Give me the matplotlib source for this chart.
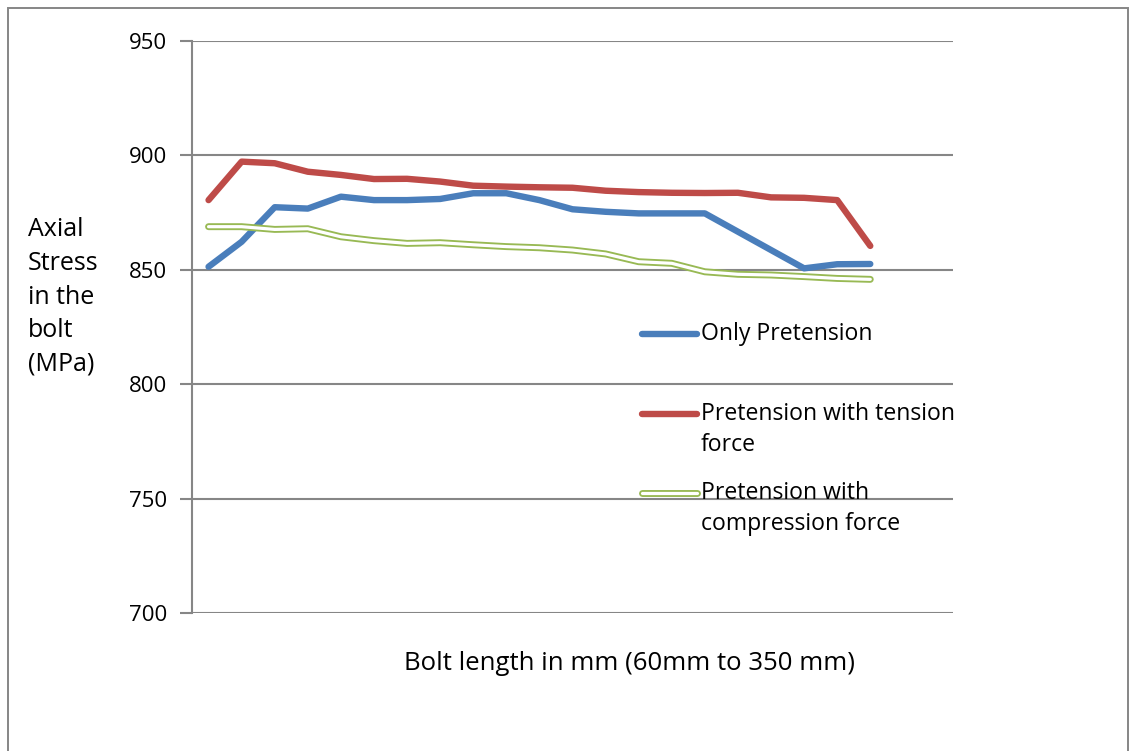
import matplotlib
matplotlib.use("Agg")
import matplotlib.pyplot as plt
import numpy as np
from matplotlib.lines import Line2D
from matplotlib.patches import Rectangle

plt.rcParams["font.family"] = ["Open Sans", "DejaVu Sans"]

# axial stress (MPa) at 21 bolt lengths, 60 mm to 350 mm
only_pretension = [851.2, 862.1, 877.2, 876.6, 881.8, 880.3, 880.3, 880.8, 883.3, 883.3, 880.3,
                   876.3, 875.2, 874.5, 874.5, 874.5, 866.5, 858.5, 850.5, 852.3, 852.4]
with_tension = [880.3, 897.1, 896.4, 892.7, 891.3, 889.5, 889.6, 888.4, 886.6, 886.2, 885.9,
                885.7, 884.4, 883.8, 883.5, 883.4, 883.5, 881.5, 881.3, 880.3, 860.3]
with_compression = [868.7, 868.7, 867.5, 867.8, 864.3, 862.6, 861.4, 861.7, 860.8, 860.0, 859.5,
                    858.5, 856.8, 853.4, 852.7, 849.0, 847.9, 847.6, 846.9, 846.1, 845.7]
y_ticks = [700, 750, 800, 850, 900, 950]
n_categories = 23

BLUE = "#4A7EBB"
RED = "#BE4B48"
GREEN = "#98B954"
GRID = "#868686"
W, H = 1134, 751

fig = plt.figure(figsize=(W / 100, H / 100), dpi=100)
ax = fig.add_axes([192 / W, 1 - 613 / H, (953 - 192) / W, (613 - 40.5) / H])

x = np.arange(len(only_pretension))
ax.plot(x, only_pretension, color=BLUE, lw=4.6, solid_capstyle="round", zorder=3)
ax.plot(x, with_tension, color=RED, lw=4.6, solid_capstyle="round", zorder=3)
ax.plot(x, with_compression, color=GREEN, lw=5.0, solid_capstyle="round", zorder=3)
ax.plot(x, with_compression, color="white", lw=2.3, solid_capstyle="round", zorder=3)

ax.set_xlim(-0.5, n_categories - 0.5)
ax.set_ylim(700, 950)
ax.set_yticks(y_ticks)
ax.set_xticks([])
ax.tick_params(axis="y", length=9, width=1.5, color=GRID, labelsize=16, pad=9)
ax.grid(axis="y", color=GRID, lw=1.5)
ax.set_axisbelow(True)
for s in ["top", "right", "bottom"]:
    ax.spines[s].set_visible(False)
ax.spines["left"].set_color(GRID)
ax.spines["left"].set_linewidth(1.5)

# outer chart border
fig.add_artist(Rectangle((8 / W, -0.05), (1128 - 8) / W, 1.05 - 8 / H, transform=fig.transFigure,
                         fill=False, edgecolor=GRID, lw=1.4))

fig.text(28 / W, 1 - 297 / H, "Axial\nStress\nin the\nbolt\n(MPa)", fontsize=18,
         ha="left", va="center", linespacing=1.45)
fig.text(629 / W, 1 - 663 / H, "Bolt length in mm (60mm to 350 mm)", fontsize=18.5,
         ha="center", va="center")

# legend drawn by hand so handles align with the first text line
legend_items = [
    (334, "Only Pretension", [(BLUE, 4.6)]),
    (414, "Pretension with tension\nforce", [(RED, 4.6)]),
    (493, "Pretension with\ncompression force", [(GREEN, 5.0), ("white", 2.3)]),
]
for ypix, label, styles in legend_items:
    yf = 1 - ypix / H
    for c, lw in styles:
        fig.add_artist(Line2D([642 / W, 697 / W], [yf, yf], transform=fig.transFigure,
                              color=c, lw=lw, solid_capstyle="round"))
    fig.text(701 / W, yf + 12 / H, label, fontsize=16.6, ha="left", va="top", linespacing=1.38)

fig.savefig("out.png", dpi=100)
